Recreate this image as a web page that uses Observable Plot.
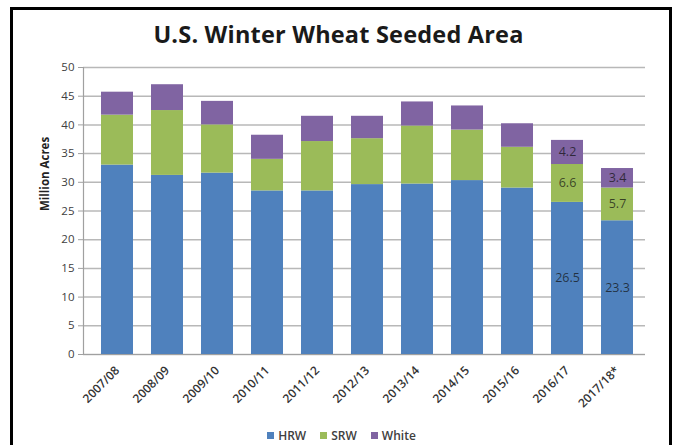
<!DOCTYPE html>
<html>
<head>
<meta charset="utf-8">
<script src="https://cdn.jsdelivr.net/npm/d3@7"></script>
<script src="https://cdn.jsdelivr.net/npm/@observablehq/plot@0.6"></script>
<style>
  html, body { margin: 0; padding: 0; background: #fff; }
  #wrap { position: relative; width: 677px; height: 445px; overflow: hidden; font-family: "Open Sans", sans-serif; }
  #border { position: absolute; left: 10px; top: 7px; width: 656px; height: 460px; border: 3px solid #000; box-sizing: content-box; pointer-events: none; }
  #title { position: relative; height: 55px; box-sizing: border-box; padding-top: 23px; line-height: 23px; font-size: 23.5px; font-weight: 700; color: #1a1a1a; text-align: center; letter-spacing: 0.2px; }
  #chart { position: relative; height: 365px; }
  #legend { position: relative; height: 25px; box-sizing: border-box; padding-top: 6px; line-height: 14px; font-size: 12px; font-weight: 600; color: #404040; display: flex; justify-content: center; gap: 14px; padding-left: 6px; }
  #legend .item { display: flex; align-items: center; gap: 4px; }
  #legend .sw { width: 7px; height: 7px; display: inline-block; }
</style>
</head>
<body>
<div id="wrap">
  <div id="title">U.S. Winter Wheat Seeded Area</div>
  <div id="chart"></div>
  <div id="legend"></div>
  <div id="border"></div>
</div>
<script>
const years = ["2007/08","2008/09","2009/10","2010/11","2011/12","2012/13","2013/14","2014/15","2015/16","2016/17","2017/18*"];
const hrw   = [33.0, 31.2, 31.6, 28.5, 28.5, 29.6, 29.7, 30.3, 29.0, 26.5, 23.3];
const srw   = [8.7, 11.3, 8.4, 5.5, 8.6, 8.0, 10.1, 8.8, 7.1, 6.6, 5.7];
const white = [4.0, 4.5, 4.1, 4.2, 4.4, 3.9, 4.2, 4.2, 4.1, 4.2, 3.4];
const classes = ["HRW", "SRW", "White"];
const colors = ["#4F81BD", "#9BBB59", "#8064A2"];
const yTicks = [0, 5, 10, 15, 20, 25, 30, 35, 40, 45, 50];
const labeledYears = ["2016/17", "2017/18*"];
const yTitle = "Million Acres";

const series = [hrw, srw, white];
const data = years.flatMap((yr, i) => classes.map((c, k) => ({year: yr, cls: c, v: series[k][i]})));

const chart = Plot.plot({
  width: 677,
  height: 365,
  marginTop: 12,
  marginBottom: 66,
  marginLeft: 83,
  marginRight: 32,
  style: {fontFamily: "Open Sans, sans-serif", background: "transparent", overflow: "visible"},
  x: {domain: years, paddingInner: 0.37, paddingOuter: 0.2165, align: 0.59, label: null},
  y: {domain: [0, 50], label: null},
  color: {domain: classes, range: colors},
  marks: [
    Plot.gridY(yTicks, {stroke: "#b8b8b8", strokeOpacity: 1, strokeWidth: 1.5}),
    Plot.barY(data, {x: "year", y: "v", fill: "cls"}),
    Plot.frame({anchor: "left", stroke: "#a0a0a0", strokeWidth: 1.2}),
    Plot.ruleY([0], {stroke: "#a0a0a0", strokeWidth: 1.2}),
    Plot.axisY({ticks: yTicks, tickSize: 5, tickPadding: 4, fontSize: 11.5, fill: "#404040", stroke: "#a0a0a0", label: null}),
    Plot.axisX({tickRotate: -45, tickSize: 0, tickPadding: 14, fontSize: 12, fontWeight: 600, fill: "#333", label: null}),
    Plot.text([yTitle], {frameAnchor: "left", rotate: -90, dx: -38, text: d => d, fontWeight: 700, fontSize: 11.5, fill: "#222"}),
    Plot.text(data.filter(d => labeledYears.includes(d.year)),
      Plot.stackY({x: "year", y: "v", z: "cls", text: d => d.v.toFixed(1), fontSize: 12.5, fill: "#111", fillOpacity: 0.72}))
  ]
});
document.getElementById("chart").appendChild(chart);

const legend = document.getElementById("legend");
classes.forEach((c, k) => {
  const item = document.createElement("span");
  item.className = "item";
  const sw = document.createElement("span");
  sw.className = "sw";
  sw.style.background = colors[k];
  item.appendChild(sw);
  item.appendChild(document.createTextNode(c));
  legend.appendChild(item);
});
</script>
</body>
</html>
